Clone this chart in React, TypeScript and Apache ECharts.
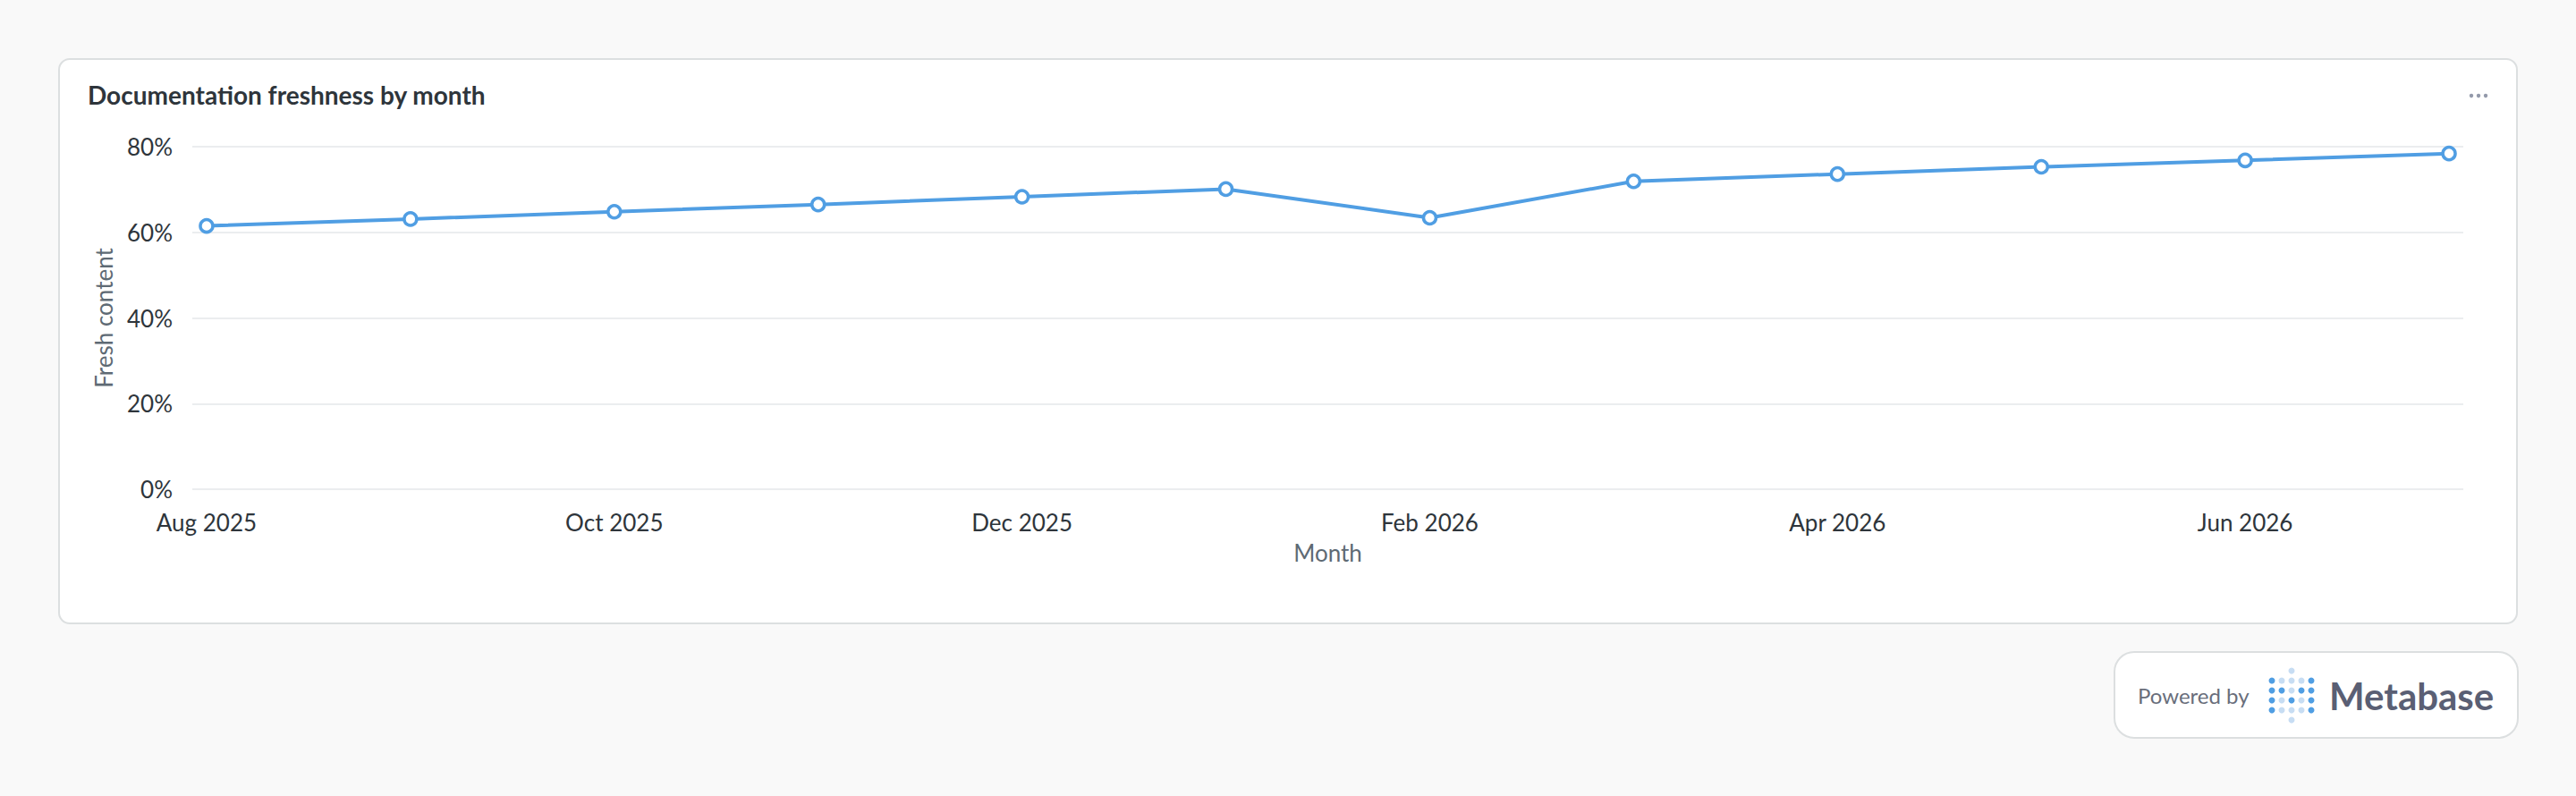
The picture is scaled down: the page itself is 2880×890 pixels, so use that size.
import React, { useEffect, useRef } from "react";
import * as echarts from "echarts";

// monthly share of fresh documentation, Aug 2025 .. Jul 2026
const months = [
  "Aug 2025", "Sep 2025", "Oct 2025", "Nov 2025", "Dec 2025", "Jan 2026",
  "Feb 2026", "Mar 2026", "Apr 2026", "May 2026", "Jun 2026", "Jul 2026",
];
const freshContent = [61.5, 63.1, 64.8, 66.5, 68.3, 70.1, 63.4, 71.9, 73.6, 75.3, 76.8, 78.4];
const labelledMonths = [0, 2, 4, 6, 8, 10];

// Metabase logo dot pattern (1 = dark dot, 0 = light dot)
const logoRows = [
  [1, 0, 0, 0, 1],
  [1, 1, 0, 1, 1],
  [1, 0, 1, 0, 1],
  [1, 0, 0, 0, 1],
];

const FONT = "Lato, 'Noto Sans', sans-serif";
const BLUE = "#509EE3";
const LIGHT_BLUE = "#C7DDF3";

const App: React.FC = () => {
  const chartRef = useRef<HTMLDivElement>(null);

  useEffect(() => {
    if (!chartRef.current) return;
    const chart = echarts.init(chartRef.current, undefined, { renderer: "svg" });

    // logo dots
    const dots: any[] = [];
    logoRows.forEach((row, r) => {
      row.forEach((dark, c) => {
        dots.push({
          type: "circle",
          shape: { cx: 2540 + c * 11, cy: 761 + r * 11, r: 3.5 },
          style: { fill: dark ? BLUE : LIGHT_BLUE },
        });
      });
    });
    dots.push({ type: "circle", shape: { cx: 2562, cy: 750, r: 3.5 }, style: { fill: LIGHT_BLUE } });
    dots.push({ type: "circle", shape: { cx: 2562, cy: 805, r: 3.5 }, style: { fill: LIGHT_BLUE } });

    const option = {
      animation: false,
      backgroundColor: "#F9F9F9",
      title: {
        text: "Documentation freshness by month",
        left: 98,
        top: 92,
        padding: 0,
        textStyle: { fontFamily: FONT, fontSize: 28, fontWeight: 700, color: "#2E353B" },
      },
      grid: { left: 215, right: 126, top: 164, bottom: 343 },
      xAxis: {
        type: "value",
        min: -0.07,
        max: 11.07,
        name: "Month",
        nameLocation: "middle",
        nameGap: 58,
        nameTextStyle: { fontFamily: FONT, fontSize: 26, color: "#5E6A74" },
        axisLine: { show: false },
        axisTick: { show: false },
        splitLine: { show: false },
        axisLabel: {
          customValues: labelledMonths,
          formatter: (v: number) => months[Math.round(v)],
          margin: 24,
          fontFamily: FONT,
          fontSize: 26,
          color: "#2E353B",
        },
      },
      yAxis: {
        type: "value",
        min: 0,
        max: 80,
        interval: 20,
        name: "Fresh content",
        nameLocation: "middle",
        nameGap: 86,
        nameTextStyle: { fontFamily: FONT, fontSize: 26, color: "#5E6A74" },
        axisLine: { show: false },
        axisTick: { show: false },
        axisLabel: {
          formatter: "{value}%",
          margin: 22,
          fontFamily: FONT,
          fontSize: 26,
          color: "#2E353B",
        },
        splitLine: { lineStyle: { color: "#EBEDEF", width: 2 } },
      },
      series: [
        {
          name: "Fresh content",
          type: "line",
          data: freshContent.map((v, i) => [i, v]),
          symbol: "circle",
          symbolSize: 14,
          lineStyle: { color: BLUE, width: 4 },
          itemStyle: { color: "#FFFFFF", borderColor: BLUE, borderWidth: 3.5 },
          z: 3,
        },
      ],
      graphic: [
        {
          type: "rect",
          z: -10,
          shape: { x: 66, y: 66, width: 2748, height: 631, r: 12 },
          style: { fill: "#FFFFFF", stroke: "#DCDFE0", lineWidth: 2 },
        },
        { type: "circle", shape: { cx: 2763, cy: 107, r: 2.2 }, style: { fill: "#949AAB" } },
        { type: "circle", shape: { cx: 2771, cy: 107, r: 2.2 }, style: { fill: "#949AAB" } },
        { type: "circle", shape: { cx: 2779, cy: 107, r: 2.2 }, style: { fill: "#949AAB" } },
        {
          type: "rect",
          z: -10,
          shape: { x: 2364, y: 729, width: 451, height: 96, r: 22 },
          style: { fill: "#FFFFFF", stroke: "#DCDFE0", lineWidth: 2 },
        },
        {
          type: "text",
          x: 2390,
          y: 777,
          style: {
            text: "Powered by",
            fontFamily: FONT,
            fontSize: 24,
            fill: "#696E7B",
            verticalAlign: "middle",
          },
        },
        ...dots,
        {
          type: "text",
          x: 2604,
          y: 778,
          style: {
            text: "Metabase",
            fontFamily: FONT,
            fontSize: 42,
            fontWeight: 700,
            fill: "#5A5F74",
            verticalAlign: "middle",
          },
        },
      ],
    };

    chart.setOption(option);
    const onResize = () => chart.resize();
    window.addEventListener("resize", onResize);

    return () => {
      window.removeEventListener("resize", onResize);
      chart.dispose();
    };
  }, []);

  return (
    <div
      ref={chartRef}
      style={{ position: "fixed", left: 0, top: 0, width: "2880px", height: "890px" }}
    />
  );
};

export default App;
